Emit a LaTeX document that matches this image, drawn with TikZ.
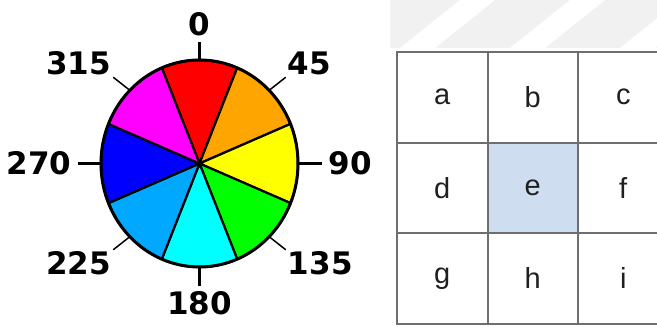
\documentclass[tikz,border=0pt]{standalone}
\usepackage{fontspec}
\setmainfont{Liberation Sans}
\newfontfamily\degfont{DejaVu Sans}
\usetikzlibrary{positioning}
\definecolor{wheelred}{HTML}{FF0000}
\definecolor{wheelorange}{HTML}{FFA500}
\definecolor{wheelyellow}{HTML}{FFFF00}
\definecolor{wheelgreen}{HTML}{00FF00}
\definecolor{wheelcyan}{HTML}{00FFFF}
\definecolor{wheelsky}{HTML}{00A8FF}
\definecolor{wheelblue}{HTML}{0000FF}
\definecolor{wheelmagenta}{HTML}{FF00FF}
\definecolor{gridline}{HTML}{6E6E6E}
\definecolor{cellblue}{HTML}{CEDEF0}
\definecolor{stripe}{HTML}{F1F1F1}
\tikzset{
  sector/.style={draw=black, line width=2.2pt, line join=round},
  tick/.style={black, line cap=butt},
  deg/.style={font=\degfont\bfseries\fontsize{31}{31}\selectfont},
  cell/.style={draw=gridline, line width=2pt, minimum width=90.5pt, minimum height=90.5pt,
               outer sep=0pt, text=black!88, font=\fontsize{29}{29}\selectfont},
}

\begin{document}
\begin{tikzpicture}[x=1pt,y=-1pt]
  \useasboundingbox (0,0) rectangle (657,327);
  \clip (0,0) rectangle (657,327);
  % faint striped band above the grid
  \fill[stripe] (390,0) rectangle (657,48);
  \foreach \x in {400,510,620}
    \fill[white] (\x,48) -- ++(35,0) -- ++(60,-48) -- ++(-35,0) -- cycle;
  % colour wheel
  \coordinate (hub) at (199.5,163.5);
  \foreach \ang/\col in {0/wheelred,45/wheelorange,90/wheelyellow,135/wheelgreen,
                         180/wheelcyan,225/wheelsky,270/wheelblue,315/wheelmagenta}
    \draw[sector, fill=\col] (hub) -- ++({\ang-112.5}:98.5 and 103.5)
      arc[start angle=\ang-112.5, end angle=\ang-67.5, x radius=98.5, y radius=103.5] -- cycle;
  \draw[line width=3pt] (hub) ellipse[x radius=98.5, y radius=103.5];
  \fill (hub) circle (4);
  % ticks and degree labels
  \foreach \ang/\anc/\tw/\sep in {0/south/2.5/5,45/south west/1.5/2,90/west/2.5/7,135/north west/1.5/2,
                                  180/north/2.5/6,225/north east/1.5/2,270/east/2.5/6,315/south east/1.5/2} {
    \path (hub) ++({\ang-90}:122) coordinate (t\ang);
    \draw[tick, line width=\tw pt] (hub) ++({\ang-90}:98.5 and 103.5) -- (t\ang);
    \node[deg, anchor=\anc, inner sep=\sep pt] (l\ang) at (t\ang) {\ang};
  }
  % 3x3 grid
  \node[cell] (a) at (442.25,97.25) {a};
  \node[cell, right=0pt of a] (b) {b};
  \node[cell, right=0pt of b] (c) {c};
  \node[cell, below=0pt of a] (d) {d};
  \node[cell, right=0pt of d, fill=cellblue] (e) {e};
  \node[cell, right=0pt of e] (f) {f};
  \node[cell, below=0pt of d] (g) {g};
  \node[cell, right=0pt of g] (h) {h};
  \node[cell, right=0pt of h] (i) {i};
\end{tikzpicture}
\end{document}
